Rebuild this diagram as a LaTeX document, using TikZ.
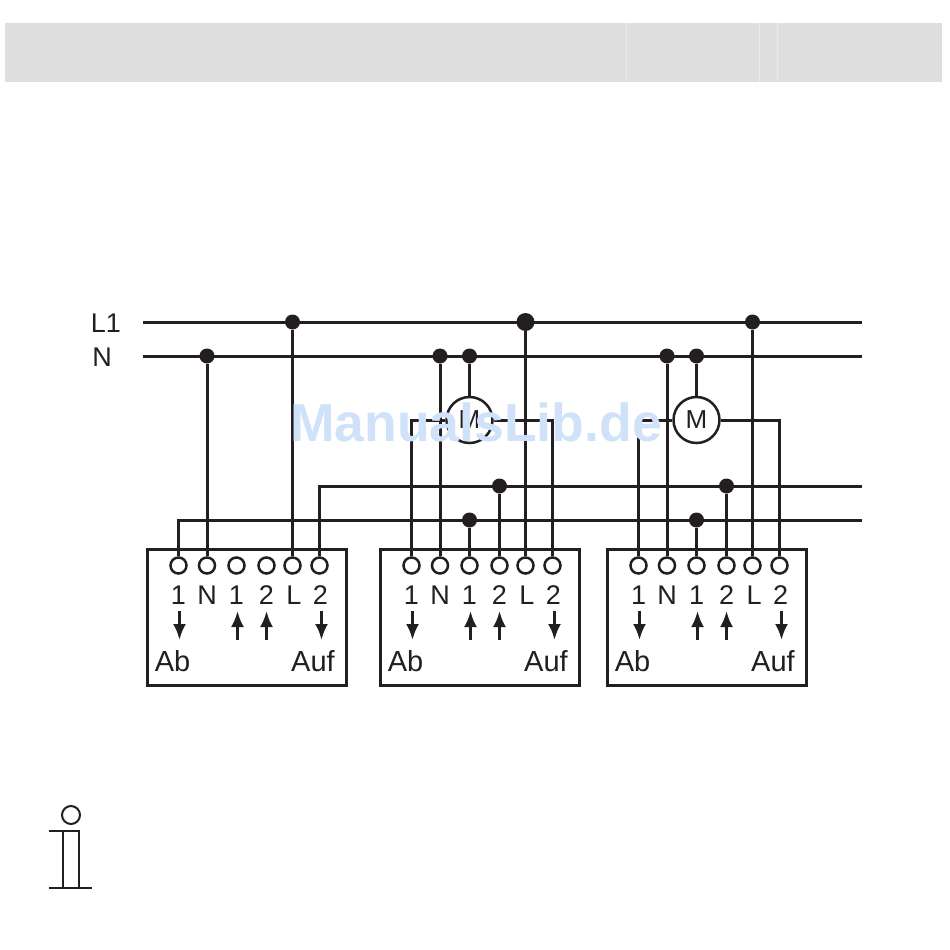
\documentclass[tikz,border=0pt]{standalone}
\usepackage{fontspec}
\setmainfont{Liberation Sans}
\usetikzlibrary{arrows.meta}
\definecolor{ink}{HTML}{231F20}
\definecolor{hdr}{HTML}{DEDEDE}
\definecolor{hdrline}{HTML}{EAEAEA}
\definecolor{wm}{HTML}{CFE2FA}
\tikzset{
  wire/.style={draw=ink,line width=3pt},
  term/.style={circle,draw=ink,line width=2.5pt,fill=white,minimum size=16pt,inner sep=0pt},
  jct/.style={circle,fill=ink,minimum size=15pt,inner sep=0pt},
  bigjct/.style={circle,fill=ink,minimum size=18pt,inner sep=0pt},
  motor/.style={circle,draw=ink,line width=2.5pt,fill=white,minimum size=46pt,inner sep=0pt,font=\fontsize{26}{26}\selectfont,text=ink},
  lab/.style={font=\fontsize{27}{27}\selectfont,text=ink,inner sep=0pt,anchor=base},
  biglab/.style={font=\fontsize{29}{29}\selectfont,text=ink,inner sep=0pt,anchor=base},
  dirarrow/.style={draw=ink,line width=3pt,-{Latex[length=16pt,width=13pt]}},
  boxframe/.style={draw=ink,line width=3pt,fill=white,minimum width=199pt,minimum height=136pt,inner sep=0pt},
}
% #1 name prefix, #2 x offset
\newcommand{\termbox}[2]{%
  \node[boxframe] (#1box) at (247+#2,617) {};
  \node[term] (#1T1) at (178.5+#2,565.5) {};
  \node[term] (#1T2) at (207+#2,565.5) {};
  \node[term] (#1T3) at (236.5+#2,565.5) {};
  \node[term] (#1T4) at (266.5+#2,565.5) {};
  \node[term] (#1T5) at (292.5+#2,565.5) {};
  \node[term] (#1T6) at (319.5+#2,565.5) {};
  \node[lab] (#1L1) at (178.5+#2,604) {1};
  \node[lab] (#1L2) at (207+#2,604) {N};
  \node[lab] (#1L3) at (236.5+#2,604) {1};
  \node[lab] (#1L4) at (266.5+#2,604) {2};
  \node[lab] (#1L5) at (294+#2,604) {L};
  \node[lab] (#1L6) at (320.5+#2,604) {2};
  \node[biglab] (#1Ab) at (172.5+#2,671) {Ab};
  \node[biglab] (#1Auf) at (313+#2,671) {Auf};
  \coordinate (#1A1s) at (179.5+#2,611);
  \coordinate (#1A1e) at (179.5+#2,640);
  \coordinate (#1A2s) at (237.5+#2,640);
  \coordinate (#1A2e) at (237.5+#2,611);
  \coordinate (#1A3s) at (266.5+#2,640);
  \coordinate (#1A3e) at (266.5+#2,611);
  \coordinate (#1A4s) at (321.5+#2,611);
  \coordinate (#1A4e) at (321.5+#2,640);
  \draw[dirarrow] (#1A1s) -- (#1A1e);
  \draw[dirarrow] (#1A2s) -- (#1A2e);
  \draw[dirarrow] (#1A3s) -- (#1A3e);
  \draw[dirarrow] (#1A4s) -- (#1A4e);
}
\begin{document}
\begin{tikzpicture}[x=1pt,y=-1pt]
\useasboundingbox (0,0) rectangle (950,950);
\fill[white] (0,0) rectangle (950,950);
% header band
\fill[hdr] (5,23) rectangle (942,82);
\draw[hdrline,line width=.8pt] (626,23) -- (626,82) (759,23) -- (759,82) (777,23) -- (777,82);
% bus labels and ends
\node[lab] (lblL) at (106,332) {L1};
\node[lab] (lblN) at (102,366) {N};
\coordinate (L1s) at (143,322);
\coordinate (L1e) at (862,322);
\coordinate (Ns) at (143,356);
\coordinate (Ne) at (862,356);
\coordinate (Ae) at (862,486);
\coordinate (Be) at (862,520);
% boxes
\termbox{a}{0}
\termbox{b}{233}
\termbox{c}{460}
% motors
\node[motor] (mb) at (469.5,420) {M};
\node[motor] (mc) at (696.5,420) {M};
% junctions
\node[jct] (aL) at (292.5,322) {};
\node[bigjct] (bL) at (525.5,322) {};
\node[jct] (cL) at (752.5,322) {};
\node[jct] (aN) at (207,356) {};
\node[jct] (bN) at (440,356) {};
\node[jct] (bM) at (469.5,356) {};
\node[jct] (cN) at (667,356) {};
\node[jct] (cM) at (696.5,356) {};
\node[jct] (bA) at (499.5,486) {};
\node[jct] (cA) at (726.5,486) {};
\node[jct] (bB) at (469.5,520) {};
\node[jct] (cB) at (696.5,520) {};
% buses
\draw[wire] (L1s) -- (L1e);
\draw[wire] (Ns) -- (Ne);
\draw[wire] (aT6) |- (Ae);
\draw[wire] (aT1) |- (Be);
% drops
\draw[wire] (aN) -- (aT2);
\draw[wire] (aL) -- (aT5);
\draw[wire] (bN) -- (bT2);
\draw[wire] (bL) -- (bT5);
\draw[wire] (bB) -- (bT3);
\draw[wire] (bA) -- (bT4);
\draw[wire] (cN) -- (cT2);
\draw[wire] (cL) -- (cT5);
\draw[wire] (cB) -- (cT3);
\draw[wire] (cA) -- (cT4);
\draw[wire] (bM) -- (mb);
\draw[wire] (cM) -- (mc);
\draw[wire] (bT1) |- (mb);
\draw[wire] (bT6) |- (mb);
\draw[wire] (cT1) |- (mc);
\draw[wire] (cT6) |- (mc);
% info symbol
\draw[ink,line width=2pt] (71,815) circle (9);
\draw[ink,line width=2pt] (49,831) -- (80,831) (63,831) -- (63,888) (79,831) -- (79,888) (49,888) -- (92,888);
% watermark
\node[font=\fontsize{53.5}{54}\selectfont\bfseries,text=wm,inner sep=0pt,anchor=base] (wmark) at (476,441) {ManualsLib.de};
\end{tikzpicture}
\end{document}
